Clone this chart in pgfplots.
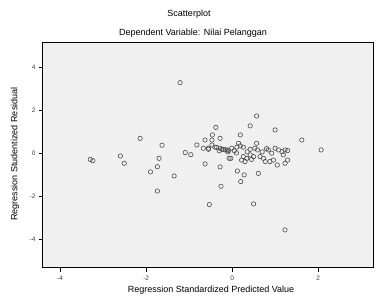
\documentclass[border=0pt]{standalone}
\usepackage{pgfplots}
\pgfplotsset{compat=1.18}
\usepackage{fontspec}
\setmainfont{Liberation Sans}
\begin{document}
\begin{tikzpicture}[x=1pt,y=1pt]
\useasboundingbox (0,0) rectangle (376,297);
\node[font=\fontsize{9}{10}\selectfont] at (189,283) {Scatterplot};
\node[font=\fontsize{9}{10}\selectfont] at (193,264) {Dependent Variable: Nilai Pelanggan};
\node[font=\fontsize{9}{10}\selectfont,rotate=90] at (15,143) {Regression Studentized Residual};
\node[font=\fontsize{9}{10}\selectfont] at (211,7) {Regression Standardized Predicted Value};
\begin{axis}[
  at={(43pt,29pt)}, anchor=south west,
  width=331pt, height=226pt, scale only axis,
  xmin=-4.4, xmax=3.3, ymin=-5.35, ymax=5.16,
  xtick={-4,-2,0,2}, ytick={-4,-2,0,2,4},
  tick align=outside, tick pos=left,
  major tick length=4pt,
  tick style={black, line width=0.8pt},
  axis line style={black, line width=1pt},
  axis background/.style={fill=black!6},
  tick label style={font=\fontsize{6.5}{7}\selectfont, black!75},
  /pgf/number format/assume math mode=true,
  clip=false,
]
\addplot[only marks, mark=o, mark size=2.2pt, mark options={draw=black!70, line width=0.6pt}] coordinates {
(-1.21,3.27) (-2.14,0.68) (-1.63,0.36) (-3.24,-0.36) (-3.30,-0.30)
(-2.60,-0.14) (-2.51,-0.48) (-1.70,-0.25) (-1.74,-0.64) (-1.90,-0.88)
(-1.35,-1.07) (-1.74,-1.77) (-1.09,0.02) (-0.96,-0.08) (-0.82,0.37)
(-0.63,0.60) (-0.38,1.19) (-0.46,0.84) (-0.28,0.68) (-0.63,-0.51)
(-0.28,-0.65) (-0.26,-1.55) (-0.53,-2.40) (-0.67,0.22) (-0.55,0.17)
(-0.47,0.37) (-0.36,0.26) (-0.24,0.17) (-0.16,0.14) (-0.08,0.11)
(-0.07,-0.25) (0.57,1.72) (0.42,1.26) (1.00,1.07) (1.62,0.60)
(2.07,0.14) (0.19,0.84) (1.23,-3.58) (0.50,-2.37) (0.61,-0.95)
(0.28,-1.02) (0.12,-0.84) (0.20,-1.33) (-0.03,-0.25)
(-0.55,0.22) (-0.40,0.27) (-0.28,0.22) (-0.20,0.17) (-0.12,0.14)
(-0.01,0.22) (0.11,0.27) (0.19,0.33) (0.26,0.27) (0.42,0.17)
(0.53,0.22) (0.59,0.14) (0.26,-0.17) (0.34,-0.25) (0.42,-0.09)
(0.50,-0.17) (0.22,-0.33) (0.30,-0.40) (0.65,-0.17) (0.73,-0.25)
(0.77,-0.40) (0.84,0.14) (0.92,-0.01) (0.96,-0.33) (1.00,0.22)
(1.08,0.14) (1.16,0.06) (1.23,0.14) (1.29,0.11) (1.29,-0.33)
(1.19,-0.09) (1.05,-0.56) (1.23,-0.48) (0.88,-0.40) (0.57,0.45)
(0.15,0.45) (-0.47,0.60) (-0.10,0.05) (0.05,0.10) (0.35,0.05)
(0.70,0.05) (0.45,-0.30) (0.10,0.00) (-0.30,0.10) (0.80,0.20)
};
\end{axis}
\end{tikzpicture}
\end{document}
